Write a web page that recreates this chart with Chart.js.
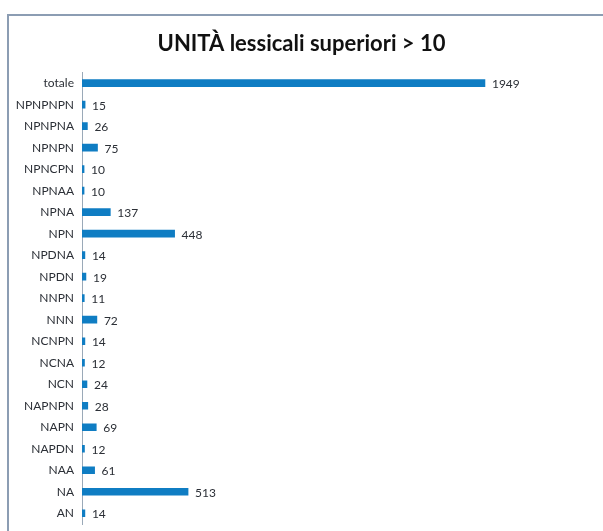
<!DOCTYPE html>
<html>
<head>
<meta charset="utf-8">
<script src="https://cdn.jsdelivr.net/npm/chart.js@4.4.1/dist/chart.umd.min.js"></script>
<style>
    html, body { margin: 0; padding: 0; background: #ffffff; }
    #wrap { position: relative; width: 603px; height: 531px; overflow: hidden; }
    #frame {
        position: absolute; left: 7px; top: 14px; width: 640px; height: 560px;
        border-left: 2px solid #8c9db3; border-top: 2px solid #8c9db3;
    }
    #chart { position: absolute; left: 0; top: 0; }
</style>
</head>
<body>
<div id="wrap">
    <div id="frame"></div>
    <canvas id="chart" width="603" height="531"></canvas>
</div>
<script>
"use strict";

// Chart data
var categories = ['totale', 'NPNPNPN', 'NPNPNA', 'NPNPN', 'NPNCPN', 'NPNAA', 'NPNA', 'NPN', 'NPDNA', 'NPDN',
    'NNPN', 'NNN', 'NCNPN', 'NCNA', 'NCN', 'NAPNPN', 'NAPN', 'NAPDN', 'NAA', 'NA', 'AN'];
var values = [1949, 15, 26, 75, 10, 10, 137, 448, 14, 19, 11, 72, 14, 12, 24, 28, 69, 12, 61, 513, 14];
var chartTitle = 'UNITÀ lessicali superiori > 10';

var barColor = '#0f7dc3';
var textColor = '#2b2f36';
var fontFamily = 'Lato, "Open Sans", sans-serif';

// Value labels next to each bar
var valueLabels = {
    id: 'valueLabels',
    afterDatasetsDraw: function (chart) {
        var ctx = chart.ctx;
        var meta = chart.getDatasetMeta(0);
        ctx.save();
        ctx.font = '12px ' + fontFamily;
        ctx.fillStyle = textColor;
        ctx.textAlign = 'left';
        ctx.textBaseline = 'middle';
        meta.data.forEach(function (bar, i) {
            ctx.fillText(String(values[i]), bar.x + 7, bar.y + 1);
        });
        ctx.restore();
    }
};

var ctx = document.getElementById('chart').getContext('2d');
var chart = new Chart(ctx, {
    type: 'bar',
    data: {
        labels: categories,
        datasets: [{
            data: values,
            backgroundColor: barColor,
            borderWidth: 0,
            barThickness: 7
        }]
    },
    options: {
        indexAxis: 'y',
        responsive: false,
        animation: false,
        layout: {
            padding: { top: 0, right: 0, bottom: 7, left: 0 }
        },
        scales: {
            x: {
                display: false,
                min: 0,
                max: 2520
            },
            y: {
                afterFit: function (scale) {
                    scale.width = 82;
                    scale.paddingTop = 0;
                    scale.paddingBottom = 0;
                },
                grid: { display: false, drawTicks: false },
                border: { display: true, color: '#9aa9b8', width: 1 },
                ticks: {
                    color: textColor,
                    padding: 8,
                    font: { family: fontFamily, size: 12 }
                }
            }
        },
        plugins: {
            legend: { display: false },
            tooltip: { enabled: false },
            title: {
                display: true,
                text: chartTitle,
                color: '#111111',
                font: { family: fontFamily, size: 22, weight: 'bold' },
                padding: { top: 31, bottom: 15 }
            }
        }
    },
    plugins: [valueLabels]
});
</script>
</body>
</html>
